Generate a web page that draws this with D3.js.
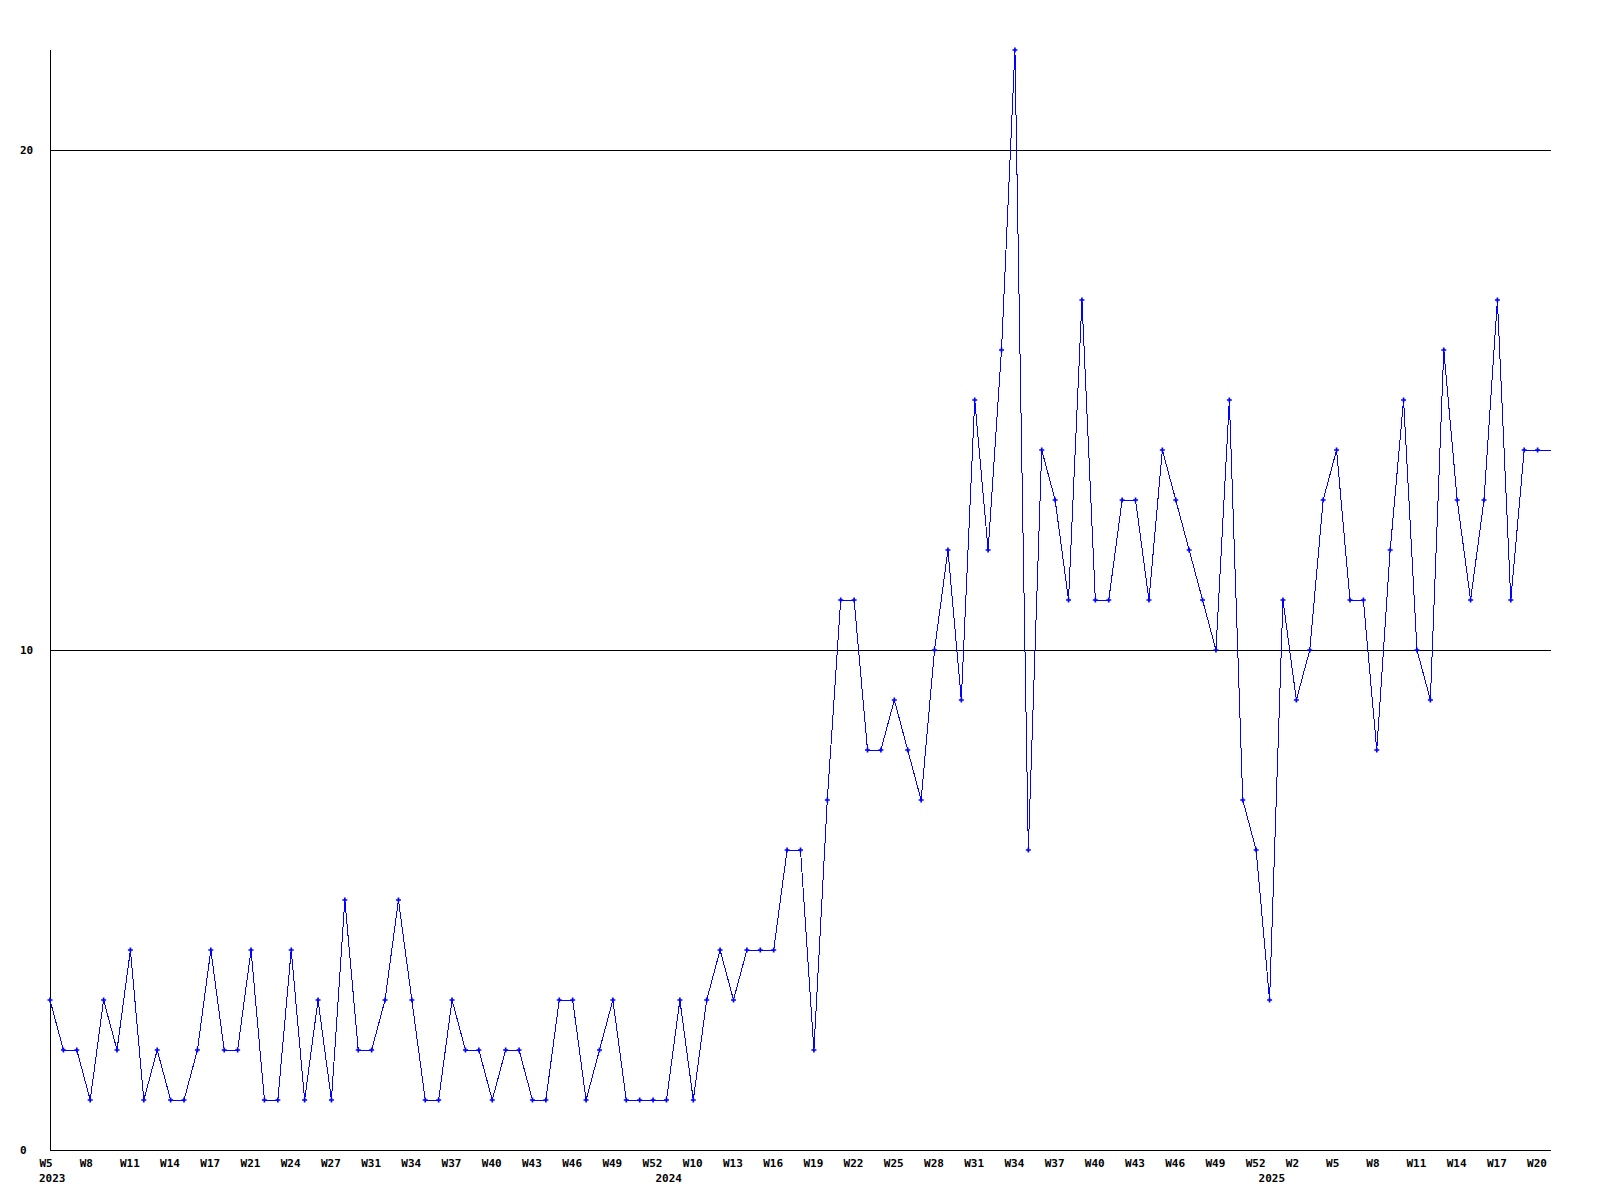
<!DOCTYPE html>
<html>
<head>
<meta charset="utf-8">
<script src="https://cdn.jsdelivr.net/npm/d3@7"></script>
<style>
  html, body { margin: 0; padding: 0; background: #ffffff; }
  svg { display: block; }
  text { font-family: "DejaVu Sans Mono", "Liberation Mono", monospace; font-weight: bold; font-size: 11px; fill: #000; }
</style>
</head>
<body>
<script>
// ---- data ----
const weeks = [
  // 2023
  "W5","W6","W7","W8","W9","W10","W11","W12","W13","W14","W15","W16","W17","W18","W19",
  "W21","W22","W23","W24","W25","W26","W27","W28","W29",
  "W31","W32","W33","W34","W35","W36","W37","W38","W39","W40","W41","W42","W43","W44",
  "W45","W46","W47","W48","W49","W50","W51","W52",
  // 2024
  "W3","W7",
  "W10","W11","W12","W13","W14","W15","W16","W17","W18","W19","W20","W21","W22","W23",
  "W24","W25","W26","W27","W28","W29","W30","W31","W32","W33","W34","W35","W36","W37",
  "W38","W39","W40","W41","W42","W43","W44","W45","W46","W47","W48","W49","W50","W51","W52",
  // 2025
  "W0","W1",
  "W2","W3","W4","W5","W6","W7","W8","W9","W10","W11","W12","W13","W14","W15","W16",
  "W17","W18","W19","W20","W21"
];
const values = [
  3,2,2,1,3,2,4,1,2,1,1,2,4,2,2,4,1,1,4,1,3,1,5,2,2,3,5,3,1,
  1,3,2,2,1,2,2,1,1,3,3,1,2,3,1,1,1,1,3,1,3,4,3,4,4,4,6,6,2,
  7,11,11,8,8,9,8,7,10,12,9,15,12,16,22,6,14,13,11,17,11,11,13,13,11,14,13,12,11,10,
  15,7,6,3,11,9,10,13,14,11,11,8,12,15,10,9,16,13,11,13,17,11,14,14,14
];
const yearLabels = ["2023","2024","2025"];
const yearStarts = [0, 46, 91];
const yTicks = [0, 10, 20];
const gridValues = [10, 20];
const tickStep = 3;

// ---- layout ----
const W = 1600, H = 1200;
const plotLeft = 50, plotRight = 1551, plotTop = 50, plotBottom = 1150;

const svg = d3.select("body").append("svg")
  .attr("width", W).attr("height", H)
  .attr("viewBox", `0 0 ${W} ${H}`);

svg.append("rect").attr("width", W).attr("height", H).attr("fill", "#fff");

const x = d3.scaleLinear().domain([0, values.length - 1]).range([plotLeft, plotRight]);
const y = d3.scaleLinear().domain([0, 22]).range([plotBottom, plotTop]);

// gridlines
svg.append("g").selectAll("line").data(gridValues).join("line")
  .attr("x1", plotLeft).attr("x2", plotRight)
  .attr("y1", d => Math.round(y(d)) + 0.5).attr("y2", d => Math.round(y(d)) + 0.5)
  .attr("stroke", "#000").attr("stroke-width", 1).attr("shape-rendering", "crispEdges");

// y axis
const yAxis = d3.axisLeft(y).tickValues(yTicks).tickSize(0).tickFormat(d3.format("d"));
const gy = svg.append("g").attr("transform", `translate(${plotLeft + 0.5},0)`).call(yAxis);
gy.select(".domain").remove();
gy.attr("font-family", null).attr("font-size", null);
gy.selectAll("text")
  .attr("x", 20 - plotLeft - 0.5)
  .attr("dy", "0.35em")
  .attr("text-anchor", "start");
svg.append("line")
  .attr("x1", plotLeft + 0.5).attr("x2", plotLeft + 0.5).attr("y1", plotTop).attr("y2", plotBottom + 0.5)
  .attr("stroke", "#000").attr("stroke-width", 1).attr("shape-rendering", "crispEdges");

// x axis
const tickIdx = d3.range(0, values.length - 1, tickStep);
const xAxis = d3.axisBottom(x).tickValues(tickIdx).tickSize(0).tickFormat(i => weeks[i]);
const gx = svg.append("g").attr("transform", `translate(0,${plotBottom + 0.5})`).call(xAxis);
gx.select(".domain").remove();
gx.attr("font-family", null).attr("font-size", null);
gx.selectAll("text")
  .attr("x", -11)
  .attr("y", 16.5)
  .attr("dy", null)
  .attr("text-anchor", "start");
svg.append("line")
  .attr("x1", plotLeft).attr("x2", plotRight).attr("y1", plotBottom + 0.5).attr("y2", plotBottom + 0.5)
  .attr("stroke", "#000").attr("stroke-width", 1).attr("shape-rendering", "crispEdges");

// year labels
svg.append("g").selectAll("text").data(yearStarts).join("text")
  .attr("x", d => x(d) - 11)
  .attr("y", plotBottom + 32)
  .attr("text-anchor", "start")
  .text((d, i) => yearLabels[i]);

// line
const line = d3.line().x((d, i) => x(i)).y(d => y(d));
svg.append("path").datum(values)
  .attr("d", line)
  .attr("fill", "none")
  .attr("stroke", "#0000ff")
  .attr("stroke-width", 1)
  .attr("shape-rendering", "crispEdges");

// markers (last, partial point has none)
const sym = d3.symbol().type(d3.symbolCross).size(14);
svg.append("g").selectAll("path").data(values.slice(0, values.length - 1)).join("path")
  .attr("transform", (d, i) => `translate(${x(i)},${y(d)})`)
  .attr("d", sym)
  .attr("fill", "#0000ff");
</script>
</body>
</html>
